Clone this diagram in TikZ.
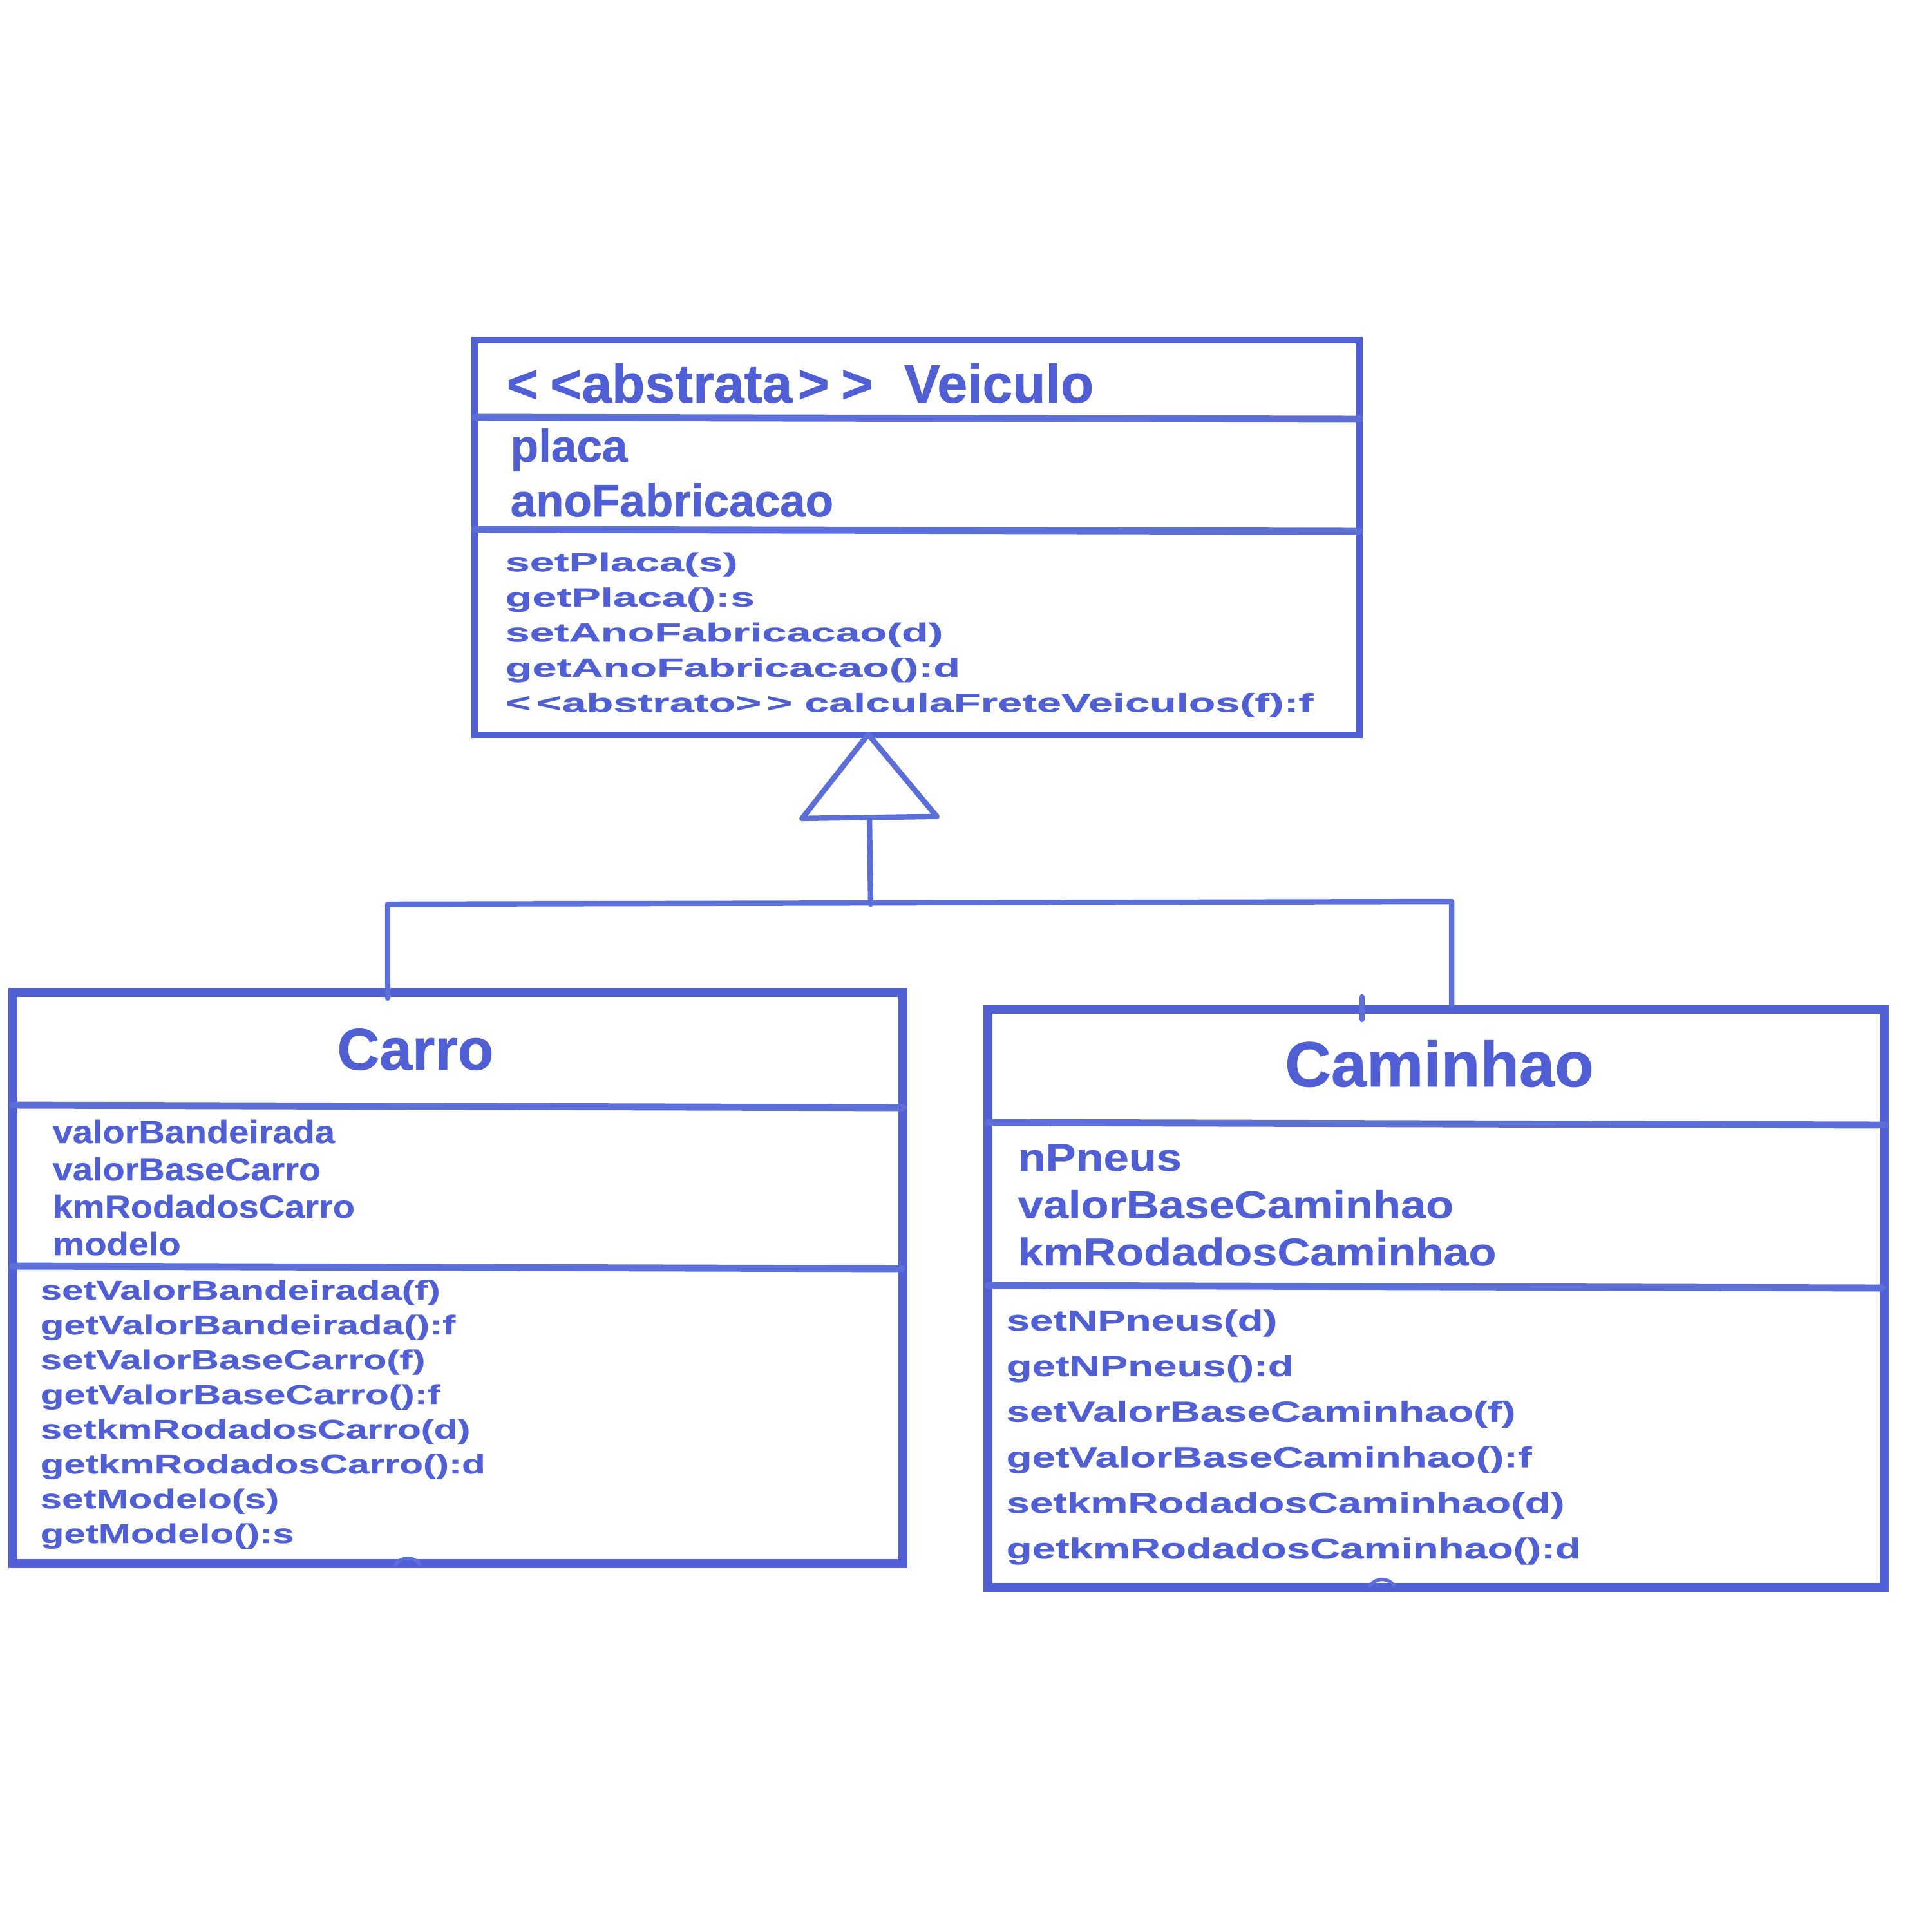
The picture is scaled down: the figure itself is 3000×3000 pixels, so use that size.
\documentclass[tikz,border=0pt]{standalone}
\usepackage{fontspec}
\setmainfont{Liberation Sans}
\newfontfamily\ttlfont{Liberation Sans Bold}[FakeBold=0.8]
\newfontfamily\vmethfont{Liberation Sans Bold}[FakeStretch=1.69, FakeBold=0.8]
\newfontfamily\cattrfont{Liberation Sans Bold}[FakeStretch=1.12, FakeBold=0.6]
\newfontfamily\cmethfont{Liberation Sans Bold}[FakeStretch=1.43, FakeBold=0.6]
\newfontfamily\kattrfont{Liberation Sans Bold}[FakeStretch=1.17, FakeBold=0.6]
\newfontfamily\kmethfont{Liberation Sans Bold}[FakeStretch=1.45, FakeBold=0.6]
\usetikzlibrary{arrows.meta,fit}
\definecolor{umlblue}{RGB}{80,96,212}
\definecolor{umlsep}{RGB}{92,110,216}

\begin{document}
\begin{tikzpicture}[
    x=0.01cm, y=-0.01cm,
    classbox/.style={rectangle, draw=umlblue, inner sep=0pt},
    sepline/.style={draw=umlsep, line width=3.1pt, line cap=round},
    conn/.style={draw=umlsep, line width=2.4pt, line cap=round, line join=round},
    txt/.style={inner sep=0pt, text=umlblue, anchor=base west},
    ttl/.style={inner sep=0pt, text=umlblue, anchor=base},
    vmeth/.style={txt, font=\vmethfont\fontsize{11.5pt}{13pt}\selectfont},
    cattr/.style={txt, font=\cattrfont\fontsize{14.2pt}{17pt}\selectfont},
    cmeth/.style={txt, font=\cmethfont\fontsize{11.95pt}{14pt}\selectfont},
    kattr/.style={txt, font=\kattrfont\fontsize{17.1pt}{20pt}\selectfont},
    kmeth/.style={txt, font=\kmethfont\fontsize{12.8pt}{15pt}\selectfont}
]
\useasboundingbox (0,0) rectangle (3000,3000);

% Abstract class Veiculo
\node[classbox, line width=3pt, fit={(737,528) (2111,1141)}] (veiculo) {};
\draw[sepline] (737,648) -- (2111,651);
\draw[sepline] (737,822) -- (2111,825);
\node[txt, font=\ttlfont\fontsize{23.9pt}{28pt}\selectfont] (vtitle) at (786,625)
    {<\kern.22em<abstrata\kern.1em>\kern.22em>\kern.3em\ Veiculo};
\node[txt, font=\ttlfont\fontsize{20.2pt}{24pt}\selectfont] (vplaca) at (792,717) {placa};
\node[txt, font=\ttlfont\fontsize{20.2pt}{24pt}\selectfont] (vano) at (792,802) {anoFabricacao};
\foreach \m [count=\i] in {setPlaca(s), getPlaca():s, setAnoFabricacao(d), getAnoFabricacao():d,
    <\kern.2em<abstrato>\kern.2em> calculaFreteVeiculos(f):f}
  \node[vmeth] (vm\i) at (784,{887+54.6*(\i-1)}) {\m};

% Class Carro
\node[classbox, line width=4pt, fit={(20,1541) (1402,2428)}] (carro) {};
\draw[sepline] (20,1716) -- (1402,1720);
\draw[sepline] (20,1966) -- (1400,1970);
\node[ttl, font=\ttlfont\fontsize{25.9pt}{30pt}\selectfont] (ctitle) at (645,1661) {Carro};
\foreach \a [count=\i] in {valorBandeirada, valorBaseCarro, kmRodadosCarro, modelo}
  \node[cattr] (ca\i) at (81,{1775+58*(\i-1)}) {\a};
\foreach \m [count=\i] in {setValorBandeirada(f), getValorBandeirada():f, setValorBaseCarro(f),
    getValorBaseCarro():f, setkmRodadosCarro(d), getkmRodadosCarro():d, setModelo(s), getModelo():s}
  \node[cmeth] (cm\i) at (62,{2018+54*(\i-1)}) {\m};

% Class Caminhao
\node[classbox, line width=4pt, fit={(1534,1567) (2926,2465)}] (caminhao) {};
\draw[sepline] (1534,1743) -- (2926,1747);
\draw[sepline] (1534,1996) -- (2922,2000);
\node[ttl, font=\ttlfont\fontsize{28.2pt}{32pt}\selectfont] (ktitle) at (2235,1687) {Caminhao};
\foreach \a [count=\i] in {nPneus, valorBaseCaminhao, kmRodadosCaminhao}
  \node[kattr] (ka\i) at (1580,{1818+73.5*(\i-1)}) {\a};
\foreach \m [count=\i] in {setNPneus(d), getNPneus():d, setValorBaseCaminhao(f),
    getValorBaseCaminhao():f, setkmRodadosCaminhao(d), getkmRodadosCaminhao():d}
  \node[kmeth] (km\i) at (1562,{2066+70.8*(\i-1)}) {\m};

% Generalization
\coordinate (apex) at (1348,1136);
\coordinate (junc) at (1352,1404);
\coordinate (lcorner) at (602,1404);
\coordinate (rcorner) at (2254,1400);
\draw[conn, -{Triangle[open, round, length=1.4cm, width=2.25cm]}] (junc) -- (apex);
\draw[conn] (carro.north -| lcorner) ++(0,16) -- (lcorner) -- (rcorner) -- (rcorner |- caminhao.north);
\draw[conn] (2115,1548) -- (2115,1583);

% small bumps on the bottom lines
\draw[conn, line width=1.5pt] (614,2430) .. controls (622,2416) and (644,2416) .. (652,2430);
\draw[conn, line width=1.5pt] (2127,2463) .. controls (2135,2449) and (2157,2449) .. (2165,2463);

\end{tikzpicture}
\end{document}
